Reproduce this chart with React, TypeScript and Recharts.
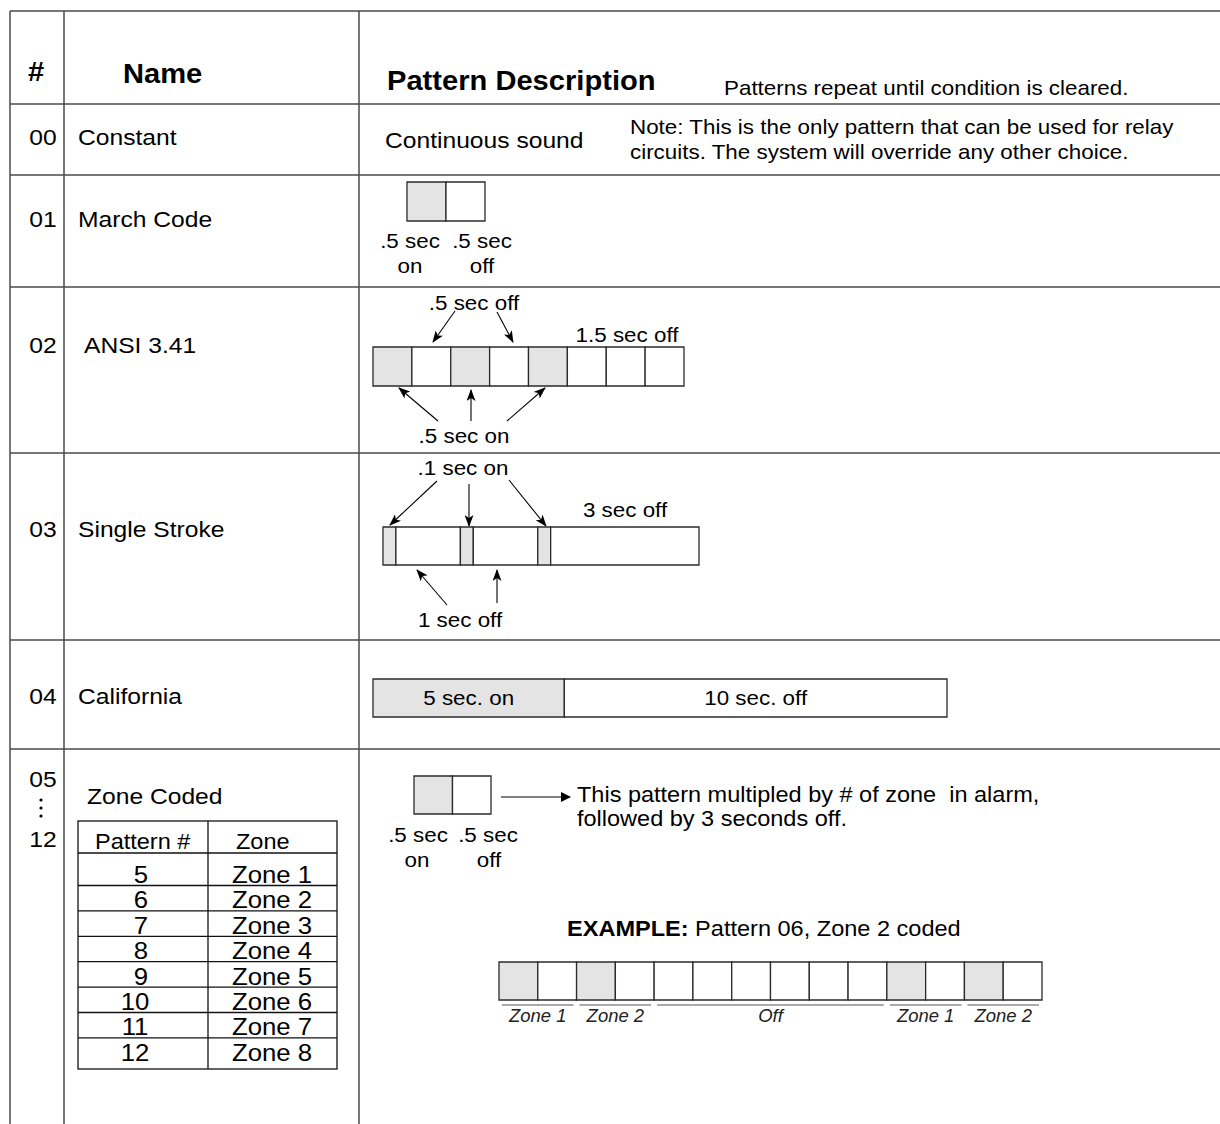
import React from 'react';
import { BarChart, Bar, XAxis, YAxis, LabelList } from 'recharts';

const FONT = '"Liberation Sans", Arial, Helvetica, sans-serif';
const ON_FILL = '#e4e4e4';
const OFF_FILL = '#ffffff';
const EDGE = '#2b2b2b';
const GRID = '#4a4a4a';

// table rows
const rowCodes = ['00', '01', '02', '03', '04'];
const rowNames = ['Constant', 'March Code', 'ANSI 3.41', 'Single Stroke', 'California'];

// pattern segments (seconds as drawn) and on/off state
const marchSeg = [0.5, 0.5];
const marchOn = [1, 0];
const ansiSeg = [0.5, 0.5, 0.5, 0.5, 0.5, 0.5, 0.5, 0.5];
const ansiOn = [1, 0, 1, 0, 1, 0, 0, 0];
// .1 sec pulses are drawn wider than scale, 3 sec off drawn shorter
const strokeSeg = [0.2, 1, 0.2, 1, 0.2, 2.3];
const strokeOn = [1, 0, 1, 0, 1, 0];
const califSeg = [5, 10];
const califOn = [1, 0];
const califText = ['5 sec. on', '10 sec. off'];
const zoneSeg = [0.5, 0.5];
const zoneOn = [1, 0];
const exampleSeg = [0.5, 0.5, 0.5, 0.5, 0.5, 0.5, 0.5, 0.5, 0.5, 0.5, 0.5, 0.5, 0.5, 0.5];
const exampleOn = [1, 0, 1, 0, 0, 0, 0, 0, 0, 0, 1, 0, 1, 0];
const exampleGroups = ['Zone 1', 'Zone 2', 'Off', 'Zone 1', 'Zone 2'];
const exampleGroupSize = [2, 2, 6, 2, 2];

// zone coded lookup
const patternNums = ['5', '6', '7', '8', '9', '10', '11', '12'];
const zoneNames = ['Zone 1', 'Zone 2', 'Zone 3', 'Zone 4', 'Zone 5', 'Zone 6', 'Zone 7', 'Zone 8'];

const rowLines = [11, 104, 175, 287, 453, 640, 749];
const colLines = [10, 64, 359];

type TxtProps = {
  x: number;
  y: number;
  size?: number;
  weight?: number | string;
  anchor?: 'start' | 'middle' | 'end';
  italic?: boolean;
  sx?: number;
  fill?: string;
  children: React.ReactNode;
};

// the scanned lettering is a bit wider than Arial, so stretch it a touch
const Txt = ({ x, y, size = 20, weight = 400, anchor = 'start', italic, sx = 1.09, fill = '#000', children }: TxtProps) => (
  <text
    transform={`translate(${x},${y}) scale(${sx},1)`}
    fontSize={size * (1.12 / sx)}
    fontWeight={weight}
    fontStyle={italic ? 'italic' : 'normal'}
    textAnchor={anchor}
    fontFamily={FONT}
    fill={fill}
    style={{ whiteSpace: 'pre' }}
  >
    {children}
  </text>
);

type BarProps = {
  x: number;
  y: number;
  w: number;
  h: number;
  seg: number[];
  on: number[];
  text?: string[];
};

const PatternBar = ({ x, y, w, h, seg, on, text }: BarProps) => {
  const row: Record<string, number | string> = { name: 'p' };
  seg.forEach((v, i) => (row[`s${i}`] = v));
  const total = seg.reduce((a, b) => a + b, 0);
  return (
    <div style={{ position: 'absolute', left: x - 2, top: y - 2 }}>
      <BarChart
        width={w + 4}
        height={h + 4}
        data={[row]}
        layout="vertical"
        margin={{ top: 2, right: 2, bottom: 2, left: 2 }}
        barCategoryGap={0}
      >
        <XAxis type="number" hide domain={[0, total]} />
        <YAxis type="category" dataKey="name" hide />
        {seg.map((_, i) => (
          <Bar
            key={i}
            dataKey={`s${i}`}
            stackId="p"
            fill={on[i] ? ON_FILL : OFF_FILL}
            stroke={EDGE}
            strokeWidth={1.3}
            isAnimationActive={false}
          >
            {text && (
              <LabelList
                dataKey={`s${i}`}
                content={(p: any) => (
                  <Txt x={Number(p.x) + Number(p.width) / 2} y={Number(p.y) + Number(p.height) / 2 + 7} anchor="middle">
                    {text[i]}
                  </Txt>
                )}
              />
            )}
          </Bar>
        ))}
      </BarChart>
    </div>
  );
};

const Arrow = ({ x1, y1, x2, y2 }: { x1: number; y1: number; x2: number; y2: number }) => (
  <line x1={x1} y1={y1} x2={x2} y2={y2} stroke="#000" strokeWidth={1.1} markerEnd="url(#ah)" />
);

export default function App() {
  const exX = 499;
  const exW = 543;
  const bw = exW / exampleSeg.length;
  let acc = 0;
  const groups = exampleGroups.map((g, i) => {
    const a = acc;
    acc += exampleGroupSize[i];
    return { label: g, x1: exX + a * bw + 3, x2: exX + acc * bw - 3 };
  });

  const nameBase = [145, 227, 353, 537, 704];
  const nameX = [78, 78, 84, 78, 78];

  return (
    <div style={{ position: 'absolute', left: 0, top: 0, width: 1220, height: 1124, background: '#fff', overflow: 'hidden' }}>
      <svg width={1220} height={1124} style={{ position: 'absolute', left: 0, top: 0 }}>
        <defs>
          <marker id="ah" markerWidth="12" markerHeight="9" refX="11" refY="4.5" orient="auto" markerUnits="userSpaceOnUse">
            <path d="M0,0 L12,4.5 L0,9 L3,4.5 z" fill="#000" />
          </marker>
          <marker id="tri" markerWidth="10" markerHeight="10" refX="9" refY="5" orient="auto" markerUnits="userSpaceOnUse">
            <path d="M0,0 L10,5 L0,10 z" fill="#000" />
          </marker>
        </defs>

        {/* grid */}
        {rowLines.map((y) => (
          <line key={`r${y}`} x1={10} y1={y} x2={1220} y2={y} stroke={GRID} strokeWidth={1.5} />
        ))}
        {colLines.map((x) => (
          <line key={`c${x}`} x1={x} y1={11} x2={x} y2={1124} stroke={GRID} strokeWidth={1.5} />
        ))}

        {/* header */}
        <Txt x={28} y={81} size={26} weight={700}>#</Txt>
        <Txt x={123} y={83} size={26} weight={700}>Name</Txt>
        <Txt x={387} y={90} size={26} weight={700}>Pattern Description</Txt>
        <Txt x={724} y={95} size={20}>Patterns repeat until condition is cleared.</Txt>

        {rowCodes.map((c, i) => (
          <Txt key={c} x={43} y={nameBase[i]} size={22} anchor="middle">{c}</Txt>
        ))}
        {rowNames.map((n, i) => (
          <Txt key={n} x={nameX[i]} y={nameBase[i]} size={22}>{n}</Txt>
        ))}

        {/* 00 */}
        <Txt x={385} y={148} size={22}>Continuous sound</Txt>
        <Txt x={630} y={134} size={20}>Note: This is the only pattern that can be used for relay</Txt>
        <Txt x={630} y={159} size={20}>circuits. The system will override any other choice.</Txt>

        {/* 01 */}
        <Txt x={410} y={248} anchor="middle">.5 sec</Txt>
        <Txt x={482} y={248} anchor="middle">.5 sec</Txt>
        <Txt x={410} y={273} anchor="middle">on</Txt>
        <Txt x={482} y={273} anchor="middle">off</Txt>

        {/* 02 */}
        <Txt x={474} y={310} anchor="middle">.5 sec off</Txt>
        <Txt x={627} y={342} anchor="middle">1.5 sec off</Txt>
        <Txt x={464} y={443} anchor="middle">.5 sec on</Txt>
        <Arrow x1={455} y1={311} x2={433} y2={342} />
        <Arrow x1={497} y1={312} x2={513} y2={342} />
        <Arrow x1={438} y1={421} x2={399} y2={388} />
        <Arrow x1={471} y1={421} x2={471} y2={390} />
        <Arrow x1={507} y1={421} x2={545} y2={388} />

        {/* 03 */}
        <Txt x={463} y={475} anchor="middle">.1 sec on</Txt>
        <Txt x={625} y={517} anchor="middle">3 sec off</Txt>
        <Txt x={460} y={627} anchor="middle">1 sec off</Txt>
        <Arrow x1={437} y1={481} x2={390} y2={525} />
        <Arrow x1={469} y1={484} x2={469} y2={526} />
        <Arrow x1={509} y1={480} x2={546} y2={526} />
        <Arrow x1={447} y1={605} x2={417} y2={570} />
        <Arrow x1={497} y1={603} x2={497} y2={570} />

        {/* 05 - 12 */}
        <Txt x={43} y={787} size={22} anchor="middle">05</Txt>
        <circle cx={41} cy={800} r={1.6} fill="#000" />
        <circle cx={41} cy={808} r={1.6} fill="#000" />
        <circle cx={41} cy={816} r={1.6} fill="#000" />
        <Txt x={43} y={847} size={22} anchor="middle">12</Txt>
        <Txt x={87} y={804} size={22}>Zone Coded</Txt>

        <rect x={78} y={821} width={259} height={248} fill="none" stroke="#111" strokeWidth={1.3} />
        <line x1={208} y1={821} x2={208} y2={1069} stroke="#111" strokeWidth={1.3} />
        <line x1={78} y1={853} x2={337} y2={853} stroke="#111" strokeWidth={1.3} />
        <Txt x={95} y={849} size={21}>Pattern #</Txt>
        <Txt x={236} y={849} size={21}>Zone</Txt>
        {patternNums.map((p, i) => {
          const base = 883 + 25.4 * i;
          return (
            <g key={p}>
              {i < patternNums.length - 1 && (
                <line x1={78} y1={base + 2.5} x2={337} y2={base + 2.5} stroke="#111" strokeWidth={1.3} />
              )}
              <Txt x={p.length > 1 ? 135 : 141} y={base} size={23} anchor="middle">{p}</Txt>
              <Txt x={232} y={base} size={23}>{zoneNames[i]}</Txt>
            </g>
          );
        })}

        <Txt x={418} y={842} anchor="middle">.5 sec</Txt>
        <Txt x={488} y={842} anchor="middle">.5 sec</Txt>
        <Txt x={417} y={867} anchor="middle">on</Txt>
        <Txt x={489} y={867} anchor="middle">off</Txt>
        <line x1={501} y1={797} x2={570} y2={797} stroke="#000" strokeWidth={1.1} markerEnd="url(#tri)" />
        <Txt x={577} y={802} size={21}>This pattern multipled by # of zone  in alarm,</Txt>
        <Txt x={577} y={826} size={21}>followed by 3 seconds off.</Txt>

        <text transform="translate(567,936) scale(1.09,1)" fontSize={21.6} fontFamily={FONT} fill="#000" style={{ whiteSpace: 'pre' }}>
          <tspan fontWeight={700}>EXAMPLE:</tspan>
          <tspan> Pattern 06, Zone 2 coded</tspan>
        </text>

        {groups.map((g, i) => (
          <g key={i}>
            <line x1={g.x1} y1={1005} x2={g.x2} y2={1005} stroke="#555" strokeWidth={1} />
            <Txt x={(g.x1 + g.x2) / 2} y={1022} size={16.5} italic sx={1.05} fill="#222" anchor="middle">
              {g.label}
            </Txt>
          </g>
        ))}
      </svg>

      <PatternBar x={407} y={182} w={78} h={39} seg={marchSeg} on={marchOn} />
      <PatternBar x={373} y={347} w={311} h={39} seg={ansiSeg} on={ansiOn} />
      <PatternBar x={383} y={527} w={316} h={38} seg={strokeSeg} on={strokeOn} />
      <PatternBar x={373} y={679} w={574} h={38} seg={califSeg} on={califOn} text={califText} />
      <PatternBar x={414} y={776} w={77} h={38} seg={zoneSeg} on={zoneOn} />
      <PatternBar x={exX} y={962} w={exW} h={38} seg={exampleSeg} on={exampleOn} />
    </div>
  );
}
